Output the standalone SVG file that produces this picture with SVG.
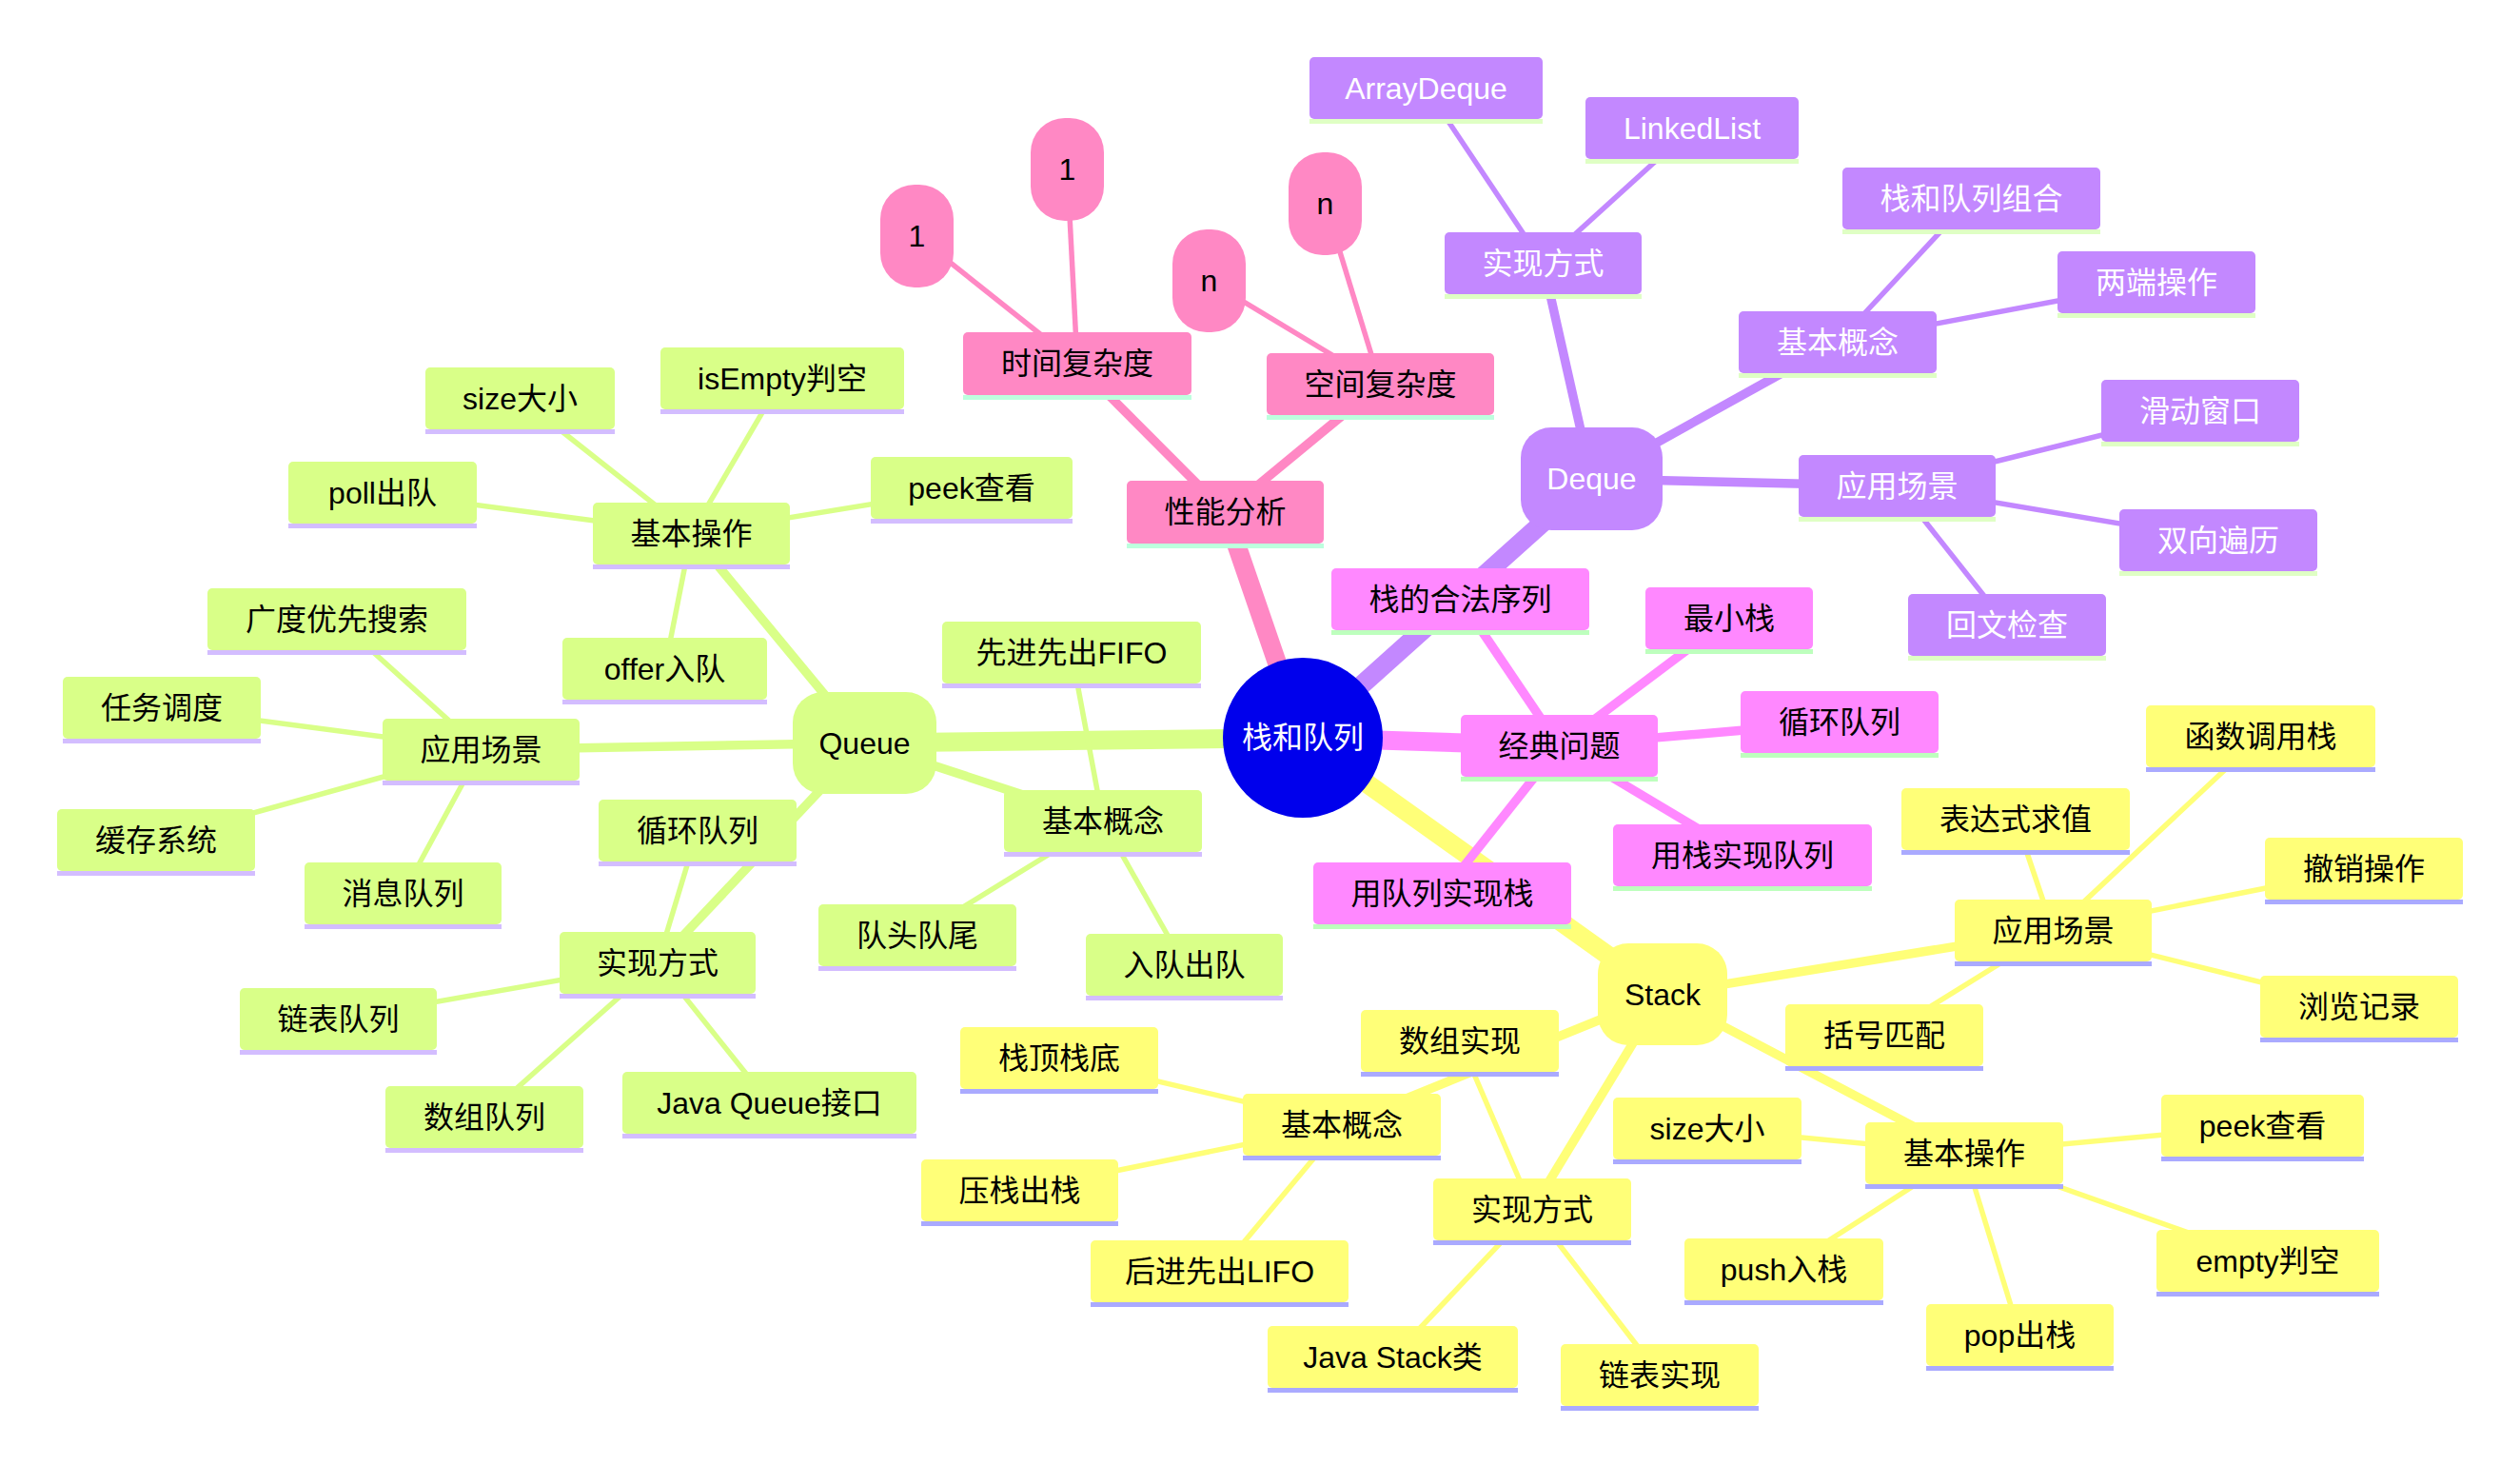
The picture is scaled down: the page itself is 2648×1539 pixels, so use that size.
<svg xmlns="http://www.w3.org/2000/svg" width="2648" height="1539" viewBox="0 0 2648 1539">
<style>
text{font-family:'Liberation Sans','Noto Sans CJK SC',sans-serif;font-size:32px;text-anchor:middle;dominant-baseline:central;fill:#000}
.u{stroke-width:5}
.g .b{fill:#d9ff88}.g .u{stroke:#d3bdff}
.y .b{fill:#ffff78}.y .u{stroke:#aaaaff}
.p .b{fill:#c388ff}.p .u{stroke:#dfffc4}.p text{fill:#fff}
.m .b{fill:#ff88ff}.m .u{stroke:#bdffbd}
.k .b{fill:#ff88c4}.k .u{stroke:#bdffde}
.root circle{fill:#0000ec}.root text{fill:#fff}
#edges line{fill:none;stroke-linecap:butt}
.e0{stroke-width:20}.e1{stroke-width:9.5}.e2{stroke-width:5.5}
.eg{stroke:#d9ff88}.ey{stroke:#ffff78}.ep{stroke:#c388ff}.em{stroke:#ff88ff}.ek{stroke:#ff88c4}
</style>
<rect width="2648" height="1539" fill="#fff"/>
<g id="edges">
<line class="e0 eg" x1="1369" y1="775" x2="908.5" y2="780.5"/>
<line class="e0 ek" x1="1369" y1="775" x2="1287.5" y2="538"/>
<line class="e0 ep" x1="1369" y1="775" x2="1672.5" y2="503"/>
<line class="e0 em" x1="1369" y1="775" x2="1638.5" y2="783.5"/>
<line class="e0 ey" x1="1369" y1="775" x2="1747" y2="1044.5"/>
<line class="e1 eg" x1="908.5" y1="780.5" x2="726.5" y2="560.5"/>
<line class="e1 eg" x1="908.5" y1="780.5" x2="505.5" y2="787.5"/>
<line class="e1 eg" x1="908.5" y1="780.5" x2="691" y2="1011.5"/>
<line class="e1 eg" x1="908.5" y1="780.5" x2="1159" y2="862.5"/>
<line class="e1 ek" x1="1287.5" y1="538" x2="1132" y2="382"/>
<line class="e1 ek" x1="1287.5" y1="538" x2="1450.5" y2="403.5"/>
<line class="e1 ep" x1="1672.5" y1="503" x2="1621.5" y2="276.5"/>
<line class="e1 ep" x1="1672.5" y1="503" x2="1931" y2="359.5"/>
<line class="e1 ep" x1="1672.5" y1="503" x2="1993.5" y2="510.5"/>
<line class="e1 em" x1="1638.5" y1="783.5" x2="1534.5" y2="629.5"/>
<line class="e1 em" x1="1638.5" y1="783.5" x2="1817" y2="649.5"/>
<line class="e1 em" x1="1638.5" y1="783.5" x2="1933" y2="758.5"/>
<line class="e1 em" x1="1638.5" y1="783.5" x2="1831" y2="898.5"/>
<line class="e1 em" x1="1638.5" y1="783.5" x2="1515.5" y2="938.5"/>
<line class="e1 ey" x1="1747" y1="1044.5" x2="2157.5" y2="977.5"/>
<line class="e1 ey" x1="1747" y1="1044.5" x2="2064" y2="1211.5"/>
<line class="e1 ey" x1="1747" y1="1044.5" x2="1610" y2="1270.5"/>
<line class="e1 ey" x1="1747" y1="1044.5" x2="1410" y2="1181.5"/>
<line class="e2 eg" x1="726.5" y1="560.5" x2="402" y2="517.5"/>
<line class="e2 eg" x1="726.5" y1="560.5" x2="546.5" y2="418.5"/>
<line class="e2 eg" x1="726.5" y1="560.5" x2="822" y2="397.5"/>
<line class="e2 eg" x1="726.5" y1="560.5" x2="1021" y2="512.5"/>
<line class="e2 eg" x1="726.5" y1="560.5" x2="698.5" y2="702.5"/>
<line class="e2 eg" x1="505.5" y1="787.5" x2="354" y2="650.5"/>
<line class="e2 eg" x1="505.5" y1="787.5" x2="170" y2="743.5"/>
<line class="e2 eg" x1="505.5" y1="787.5" x2="164" y2="882.5"/>
<line class="e2 eg" x1="505.5" y1="787.5" x2="423.5" y2="938.5"/>
<line class="e2 eg" x1="691" y1="1011.5" x2="733" y2="872.5"/>
<line class="e2 eg" x1="691" y1="1011.5" x2="355.5" y2="1070.5"/>
<line class="e2 eg" x1="691" y1="1011.5" x2="509" y2="1173.5"/>
<line class="e2 eg" x1="691" y1="1011.5" x2="808.5" y2="1158.5"/>
<line class="e2 eg" x1="1159" y1="862.5" x2="1126" y2="685.5"/>
<line class="e2 eg" x1="1159" y1="862.5" x2="964" y2="982.5"/>
<line class="e2 eg" x1="1159" y1="862.5" x2="1244.5" y2="1013.5"/>
<line class="e2 ek" x1="1132" y1="382" x2="963.5" y2="248"/>
<line class="e2 ek" x1="1132" y1="382" x2="1121.5" y2="178"/>
<line class="e2 ek" x1="1450.5" y1="403.5" x2="1270.5" y2="295"/>
<line class="e2 ek" x1="1450.5" y1="403.5" x2="1392.5" y2="214"/>
<line class="e2 ep" x1="1621.5" y1="276.5" x2="1498.5" y2="92.5"/>
<line class="e2 ep" x1="1621.5" y1="276.5" x2="1778" y2="134.5"/>
<line class="e2 ep" x1="1931" y1="359.5" x2="2071.5" y2="208.5"/>
<line class="e2 ep" x1="1931" y1="359.5" x2="2266" y2="296.5"/>
<line class="e2 ep" x1="1993.5" y1="510.5" x2="2312" y2="431.5"/>
<line class="e2 ep" x1="1993.5" y1="510.5" x2="2331" y2="567.5"/>
<line class="e2 ep" x1="1993.5" y1="510.5" x2="2109" y2="656.5"/>
<line class="e2 ey" x1="2157.5" y1="977.5" x2="2375.5" y2="773.5"/>
<line class="e2 ey" x1="2157.5" y1="977.5" x2="2118" y2="860.5"/>
<line class="e2 ey" x1="2157.5" y1="977.5" x2="2484" y2="912.5"/>
<line class="e2 ey" x1="2157.5" y1="977.5" x2="2479" y2="1057.5"/>
<line class="e2 ey" x1="2157.5" y1="977.5" x2="1980" y2="1087.5"/>
<line class="e2 ey" x1="2064" y1="1211.5" x2="1794" y2="1185.5"/>
<line class="e2 ey" x1="2064" y1="1211.5" x2="1874.5" y2="1333.5"/>
<line class="e2 ey" x1="2064" y1="1211.5" x2="2122.5" y2="1402.5"/>
<line class="e2 ey" x1="2064" y1="1211.5" x2="2383" y2="1324.5"/>
<line class="e2 ey" x1="2064" y1="1211.5" x2="2377.5" y2="1182.5"/>
<line class="e2 ey" x1="1610" y1="1270.5" x2="1534" y2="1093.5"/>
<line class="e2 ey" x1="1610" y1="1270.5" x2="1463.5" y2="1425.5"/>
<line class="e2 ey" x1="1610" y1="1270.5" x2="1744" y2="1444.5"/>
<line class="e2 ey" x1="1410" y1="1181.5" x2="1113" y2="1111.5"/>
<line class="e2 ey" x1="1410" y1="1181.5" x2="1071.5" y2="1250.5"/>
<line class="e2 ey" x1="1410" y1="1181.5" x2="1281.5" y2="1335.5"/>
</g>
<g id="n-root" class="root"><circle cx="1369" cy="775" r="84"/><text x="1369" y="775">栈和队列</text></g>
<g id="n-queue" class="g"><rect class="b" x="833" y="727" width="151" height="107" rx="32"/><text x="908.5" y="780.5">Queue</text></g>
<g id="n-stack" class="y"><rect class="b" x="1679" y="991" width="136" height="107" rx="32"/><text x="1747" y="1044.5">Stack</text></g>
<g id="n-deque" class="p"><rect class="b" x="1598" y="449" width="149" height="108" rx="32"/><text x="1672.5" y="503">Deque</text></g>
<g id="n-perf" class="k"><rect class="b" x="1184" y="505" width="207" height="66" rx="5"/><line class="u" x1="1184" y1="573.5" x2="1391" y2="573.5"/><text x="1287.5" y="538">性能分析</text></g>
<g id="n-time" class="k"><rect class="b" x="1012" y="349" width="240" height="66" rx="5"/><line class="u" x1="1012" y1="417.5" x2="1252" y2="417.5"/><text x="1132" y="382">时间复杂度</text></g>
<g id="n-space" class="k"><rect class="b" x="1331" y="371" width="239" height="65" rx="5"/><line class="u" x1="1331" y1="438.5" x2="1570" y2="438.5"/><text x="1450.5" y="403.5">空间复杂度</text></g>
<g id="n-t1a" class="k"><rect class="b" x="925" y="194" width="77" height="108" rx="36"/><text x="963.5" y="248">1</text></g>
<g id="n-t1b" class="k"><rect class="b" x="1083" y="124" width="77" height="108" rx="36"/><text x="1121.5" y="178">1</text></g>
<g id="n-sna" class="k"><rect class="b" x="1232" y="241" width="77" height="108" rx="36"/><text x="1270.5" y="295">n</text></g>
<g id="n-snb" class="k"><rect class="b" x="1354" y="160" width="77" height="108" rx="36"/><text x="1392.5" y="214">n</text></g>
<g id="n-gop" class="g"><rect class="b" x="623" y="528" width="207" height="65" rx="5"/><line class="u" x1="623" y1="595.5" x2="830" y2="595.5"/><text x="726.5" y="560.5">基本操作</text></g>
<g id="n-poll" class="g"><rect class="b" x="303" y="485" width="198" height="65" rx="5"/><line class="u" x1="303" y1="552.5" x2="501" y2="552.5"/><text x="402" y="517.5">poll出队</text></g>
<g id="n-gsize" class="g"><rect class="b" x="447" y="386" width="199" height="65" rx="5"/><line class="u" x1="447" y1="453.5" x2="646" y2="453.5"/><text x="546.5" y="418.5">size大小</text></g>
<g id="n-isempty" class="g"><rect class="b" x="694" y="365" width="256" height="65" rx="5"/><line class="u" x1="694" y1="432.5" x2="950" y2="432.5"/><text x="822" y="397.5">isEmpty判空</text></g>
<g id="n-gpeek" class="g"><rect class="b" x="915" y="480" width="212" height="65" rx="5"/><line class="u" x1="915" y1="547.5" x2="1127" y2="547.5"/><text x="1021" y="512.5">peek查看</text></g>
<g id="n-offer" class="g"><rect class="b" x="591" y="670" width="215" height="65" rx="5"/><line class="u" x1="591" y1="737.5" x2="806" y2="737.5"/><text x="698.5" y="702.5">offer入队</text></g>
<g id="n-gapp" class="g"><rect class="b" x="402" y="755" width="207" height="65" rx="5"/><line class="u" x1="402" y1="822.5" x2="609" y2="822.5"/><text x="505.5" y="787.5">应用场景</text></g>
<g id="n-bfs" class="g"><rect class="b" x="218" y="618" width="272" height="65" rx="5"/><line class="u" x1="218" y1="685.5" x2="490" y2="685.5"/><text x="354" y="650.5">广度优先搜索</text></g>
<g id="n-task" class="g"><rect class="b" x="66" y="711" width="208" height="65" rx="5"/><line class="u" x1="66" y1="778.5" x2="274" y2="778.5"/><text x="170" y="743.5">任务调度</text></g>
<g id="n-cache" class="g"><rect class="b" x="60" y="850" width="208" height="65" rx="5"/><line class="u" x1="60" y1="917.5" x2="268" y2="917.5"/><text x="164" y="882.5">缓存系统</text></g>
<g id="n-mq" class="g"><rect class="b" x="320" y="906" width="207" height="65" rx="5"/><line class="u" x1="320" y1="973.5" x2="527" y2="973.5"/><text x="423.5" y="938.5">消息队列</text></g>
<g id="n-gcirc" class="g"><rect class="b" x="629" y="840" width="208" height="65" rx="5"/><line class="u" x1="629" y1="907.5" x2="837" y2="907.5"/><text x="733" y="872.5">循环队列</text></g>
<g id="n-gimpl" class="g"><rect class="b" x="588" y="979" width="206" height="65" rx="5"/><line class="u" x1="588" y1="1046.5" x2="794" y2="1046.5"/><text x="691" y="1011.5">实现方式</text></g>
<g id="n-llq" class="g"><rect class="b" x="252" y="1038" width="207" height="65" rx="5"/><line class="u" x1="252" y1="1105.5" x2="459" y2="1105.5"/><text x="355.5" y="1070.5">链表队列</text></g>
<g id="n-arrq" class="g"><rect class="b" x="405" y="1141" width="208" height="65" rx="5"/><line class="u" x1="405" y1="1208.5" x2="613" y2="1208.5"/><text x="509" y="1173.5">数组队列</text></g>
<g id="n-javaq" class="g"><rect class="b" x="654" y="1126" width="309" height="65" rx="5"/><line class="u" x1="654" y1="1193.5" x2="963" y2="1193.5"/><text x="808.5" y="1158.5">Java Queue接口</text></g>
<g id="n-fifo" class="g"><rect class="b" x="990" y="653" width="272" height="65" rx="5"/><line class="u" x1="990" y1="720.5" x2="1262" y2="720.5"/><text x="1126" y="685.5">先进先出FIFO</text></g>
<g id="n-gconc" class="g"><rect class="b" x="1055" y="830" width="208" height="65" rx="5"/><line class="u" x1="1055" y1="897.5" x2="1263" y2="897.5"/><text x="1159" y="862.5">基本概念</text></g>
<g id="n-headtail" class="g"><rect class="b" x="860" y="950" width="208" height="65" rx="5"/><line class="u" x1="860" y1="1017.5" x2="1068" y2="1017.5"/><text x="964" y="982.5">队头队尾</text></g>
<g id="n-enqdeq" class="g"><rect class="b" x="1141" y="981" width="207" height="65" rx="5"/><line class="u" x1="1141" y1="1048.5" x2="1348" y2="1048.5"/><text x="1244.5" y="1013.5">入队出队</text></g>
<g id="n-yapp" class="y"><rect class="b" x="2054" y="945" width="207" height="65" rx="5"/><line class="u" x1="2054" y1="1012.5" x2="2261" y2="1012.5"/><text x="2157.5" y="977.5">应用场景</text></g>
<g id="n-callstack" class="y"><rect class="b" x="2255" y="741" width="241" height="65" rx="5"/><line class="u" x1="2255" y1="808.5" x2="2496" y2="808.5"/><text x="2375.5" y="773.5">函数调用栈</text></g>
<g id="n-expr" class="y"><rect class="b" x="1998" y="828" width="240" height="65" rx="5"/><line class="u" x1="1998" y1="895.5" x2="2238" y2="895.5"/><text x="2118" y="860.5">表达式求值</text></g>
<g id="n-undo" class="y"><rect class="b" x="2380" y="880" width="208" height="65" rx="5"/><line class="u" x1="2380" y1="947.5" x2="2588" y2="947.5"/><text x="2484" y="912.5">撤销操作</text></g>
<g id="n-history" class="y"><rect class="b" x="2375" y="1025" width="208" height="65" rx="5"/><line class="u" x1="2375" y1="1092.5" x2="2583" y2="1092.5"/><text x="2479" y="1057.5">浏览记录</text></g>
<g id="n-bracket" class="y"><rect class="b" x="1876" y="1055" width="208" height="65" rx="5"/><line class="u" x1="1876" y1="1122.5" x2="2084" y2="1122.5"/><text x="1980" y="1087.5">括号匹配</text></g>
<g id="n-yop" class="y"><rect class="b" x="1960" y="1179" width="208" height="65" rx="5"/><line class="u" x1="1960" y1="1246.5" x2="2168" y2="1246.5"/><text x="2064" y="1211.5">基本操作</text></g>
<g id="n-ypeek" class="y"><rect class="b" x="2271" y="1150" width="213" height="65" rx="5"/><line class="u" x1="2271" y1="1217.5" x2="2484" y2="1217.5"/><text x="2377.5" y="1182.5">peek查看</text></g>
<g id="n-empty" class="y"><rect class="b" x="2266" y="1292" width="234" height="65" rx="5"/><line class="u" x1="2266" y1="1359.5" x2="2500" y2="1359.5"/><text x="2383" y="1324.5">empty判空</text></g>
<g id="n-pop" class="y"><rect class="b" x="2024" y="1370" width="197" height="65" rx="5"/><line class="u" x1="2024" y1="1437.5" x2="2221" y2="1437.5"/><text x="2122.5" y="1402.5">pop出栈</text></g>
<g id="n-push" class="y"><rect class="b" x="1770" y="1301" width="209" height="65" rx="5"/><line class="u" x1="1770" y1="1368.5" x2="1979" y2="1368.5"/><text x="1874.5" y="1333.5">push入栈</text></g>
<g id="n-ysize" class="y"><rect class="b" x="1695" y="1153" width="198" height="65" rx="5"/><line class="u" x1="1695" y1="1220.5" x2="1893" y2="1220.5"/><text x="1794" y="1185.5">size大小</text></g>
<g id="n-yimpl" class="y"><rect class="b" x="1506" y="1238" width="208" height="65" rx="5"/><line class="u" x1="1506" y1="1305.5" x2="1714" y2="1305.5"/><text x="1610" y="1270.5">实现方式</text></g>
<g id="n-arrimpl" class="y"><rect class="b" x="1430" y="1061" width="208" height="65" rx="5"/><line class="u" x1="1430" y1="1128.5" x2="1638" y2="1128.5"/><text x="1534" y="1093.5">数组实现</text></g>
<g id="n-javastack" class="y"><rect class="b" x="1332" y="1393" width="263" height="65" rx="5"/><line class="u" x1="1332" y1="1460.5" x2="1595" y2="1460.5"/><text x="1463.5" y="1425.5">Java Stack类</text></g>
<g id="n-llimpl" class="y"><rect class="b" x="1640" y="1412" width="208" height="65" rx="5"/><line class="u" x1="1640" y1="1479.5" x2="1848" y2="1479.5"/><text x="1744" y="1444.5">链表实现</text></g>
<g id="n-yconc" class="y"><rect class="b" x="1306" y="1149" width="208" height="65" rx="5"/><line class="u" x1="1306" y1="1216.5" x2="1514" y2="1216.5"/><text x="1410" y="1181.5">基本概念</text></g>
<g id="n-topbot" class="y"><rect class="b" x="1009" y="1079" width="208" height="65" rx="5"/><line class="u" x1="1009" y1="1146.5" x2="1217" y2="1146.5"/><text x="1113" y="1111.5">栈顶栈底</text></g>
<g id="n-pushpop" class="y"><rect class="b" x="968" y="1218" width="207" height="65" rx="5"/><line class="u" x1="968" y1="1285.5" x2="1175" y2="1285.5"/><text x="1071.5" y="1250.5">压栈出栈</text></g>
<g id="n-lifo" class="y"><rect class="b" x="1146" y="1303" width="271" height="65" rx="5"/><line class="u" x1="1146" y1="1370.5" x2="1417" y2="1370.5"/><text x="1281.5" y="1335.5">后进先出LIFO</text></g>
<g id="n-classic" class="m"><rect class="b" x="1535" y="751" width="207" height="65" rx="5"/><line class="u" x1="1535" y1="818.5" x2="1742" y2="818.5"/><text x="1638.5" y="783.5">经典问题</text></g>
<g id="n-validseq" class="m"><rect class="b" x="1399" y="597" width="271" height="65" rx="5"/><line class="u" x1="1399" y1="664.5" x2="1670" y2="664.5"/><text x="1534.5" y="629.5">栈的合法序列</text></g>
<g id="n-minstack" class="m"><rect class="b" x="1729" y="617" width="176" height="65" rx="5"/><line class="u" x1="1729" y1="684.5" x2="1905" y2="684.5"/><text x="1817" y="649.5">最小栈</text></g>
<g id="n-mcirc" class="m"><rect class="b" x="1829" y="726" width="208" height="65" rx="5"/><line class="u" x1="1829" y1="793.5" x2="2037" y2="793.5"/><text x="1933" y="758.5">循环队列</text></g>
<g id="n-s2q" class="m"><rect class="b" x="1695" y="866" width="272" height="65" rx="5"/><line class="u" x1="1695" y1="933.5" x2="1967" y2="933.5"/><text x="1831" y="898.5">用栈实现队列</text></g>
<g id="n-q2s" class="m"><rect class="b" x="1380" y="906" width="271" height="65" rx="5"/><line class="u" x1="1380" y1="973.5" x2="1651" y2="973.5"/><text x="1515.5" y="938.5">用队列实现栈</text></g>
<g id="n-pimpl" class="p"><rect class="b" x="1518" y="244" width="207" height="65" rx="5"/><line class="u" x1="1518" y1="311.5" x2="1725" y2="311.5"/><text x="1621.5" y="276.5">实现方式</text></g>
<g id="n-arraydeque" class="p"><rect class="b" x="1376" y="60" width="245" height="65" rx="5"/><line class="u" x1="1376" y1="127.5" x2="1621" y2="127.5"/><text x="1498.5" y="92.5">ArrayDeque</text></g>
<g id="n-linkedlist" class="p"><rect class="b" x="1666" y="102" width="224" height="65" rx="5"/><line class="u" x1="1666" y1="169.5" x2="1890" y2="169.5"/><text x="1778" y="134.5">LinkedList</text></g>
<g id="n-pconc" class="p"><rect class="b" x="1827" y="327" width="208" height="65" rx="5"/><line class="u" x1="1827" y1="394.5" x2="2035" y2="394.5"/><text x="1931" y="359.5">基本概念</text></g>
<g id="n-combo" class="p"><rect class="b" x="1936" y="176" width="271" height="65" rx="5"/><line class="u" x1="1936" y1="243.5" x2="2207" y2="243.5"/><text x="2071.5" y="208.5">栈和队列组合</text></g>
<g id="n-twoends" class="p"><rect class="b" x="2162" y="264" width="208" height="65" rx="5"/><line class="u" x1="2162" y1="331.5" x2="2370" y2="331.5"/><text x="2266" y="296.5">两端操作</text></g>
<g id="n-papp" class="p"><rect class="b" x="1890" y="478" width="207" height="65" rx="5"/><line class="u" x1="1890" y1="545.5" x2="2097" y2="545.5"/><text x="1993.5" y="510.5">应用场景</text></g>
<g id="n-window" class="p"><rect class="b" x="2208" y="399" width="208" height="65" rx="5"/><line class="u" x1="2208" y1="466.5" x2="2416" y2="466.5"/><text x="2312" y="431.5">滑动窗口</text></g>
<g id="n-bidir" class="p"><rect class="b" x="2227" y="535" width="208" height="65" rx="5"/><line class="u" x1="2227" y1="602.5" x2="2435" y2="602.5"/><text x="2331" y="567.5">双向遍历</text></g>
<g id="n-palin" class="p"><rect class="b" x="2005" y="624" width="208" height="65" rx="5"/><line class="u" x1="2005" y1="691.5" x2="2213" y2="691.5"/><text x="2109" y="656.5">回文检查</text></g>
</svg>
